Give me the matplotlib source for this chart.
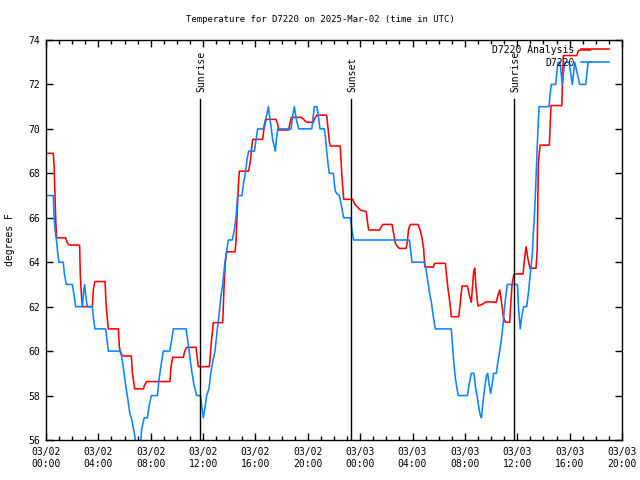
import matplotlib
matplotlib.use('Agg')
import matplotlib.pyplot as plt
from matplotlib.ticker import MultipleLocator

# hours since 2025-03-02 00:00 UTC
obs_hours = [0.15, 0.56, 0.62, 0.70, 0.80, 0.90, 0.99, 1.32, 1.40, 1.55, 2.01, 2.15, 2.27, 2.78, 2.86, 2.95,
             3.05, 3.16, 3.54, 3.62, 3.74, 4.56, 4.66, 4.76, 5.70, 5.85, 5.96, 6.10, 6.26, 6.40, 6.52, 6.72,
             6.93, 7.20, 7.31, 7.50, 7.74, 7.90, 8.05, 8.51, 8.65, 8.80, 8.96, 9.45, 9.60, 9.73, 10.70, 10.85,
             10.98, 11.13, 11.30, 11.51, 11.80, 11.90, 12.02, 12.15, 12.27, 12.45, 12.58, 12.80, 12.91, 13.09,
             13.25, 13.37, 13.50, 13.67, 13.80, 13.93, 14.23, 14.40, 14.51, 14.64, 14.97, 15.10, 15.23, 15.35,
             15.48, 15.92, 16.04, 16.17, 16.60, 16.75, 16.85, 16.99, 17.07, 17.19, 17.32, 17.45, 17.52, 17.60,
             17.70, 18.72, 18.85, 18.97, 19.10, 19.30, 20.30, 20.42, 20.50, 20.70, 20.82, 20.93, 21.26, 21.35,
             21.44, 21.55, 21.64, 21.95, 22.02, 22.10, 22.20, 22.41, 22.55, 22.74, 23.25, 23.38, 23.50, 27.76,
             27.88, 27.96, 28.93, 29.05, 29.18, 29.30, 29.44, 29.55, 29.74, 30.96, 31.05, 31.15, 31.27, 31.40,
             31.50, 32.19, 32.35, 32.49, 32.70, 32.80, 32.93, 33.05, 33.18, 33.26, 33.35, 33.44, 33.55, 33.65,
             33.74, 33.85, 33.97, 34.08, 34.20, 34.40, 34.52, 34.66, 34.80, 34.91, 35.05, 35.17, 35.24, 36.01,
             36.10, 36.23, 36.35, 36.49, 36.72, 36.85, 37.03, 37.15, 37.22, 37.30, 37.38, 37.46, 37.53, 37.60,
             37.66, 38.43, 38.50, 38.60, 38.94, 39.02, 39.11, 39.27, 39.35, 39.44, 39.52, 39.63, 39.95, 40.08,
             40.21, 40.30, 40.39, 40.54, 40.65, 40.77, 41.23, 41.32, 41.41, 41.60]
obs_temp = [67.0, 67.0, 66.0, 65.4, 65.0, 64.4, 64.0, 64.0, 63.5, 63.0, 63.0, 62.5, 62.0, 62.0, 62.6, 63.0,
            62.4, 62.0, 62.0, 61.5, 61.0, 61.0, 60.5, 60.0, 60.0, 59.5, 59.0, 58.4, 57.8, 57.2, 57.0, 56.4,
            55.6, 55.6, 56.5, 57.0, 57.0, 57.6, 58.0, 58.0, 58.8, 59.4, 60.0, 60.0, 60.5, 61.0, 61.0, 60.4,
            59.8, 59.1, 58.5, 58.0, 58.0, 57.5, 57.0, 57.5, 58.0, 58.3, 59.0, 59.7, 60.0, 61.0,
            61.8, 62.5, 63.0, 64.0, 64.5, 65.0, 65.0, 65.5, 66.0, 67.0, 67.0, 67.6, 68.0, 68.6,
            69.0, 69.0, 69.5, 70.0, 70.0, 70.4, 70.6, 71.0, 70.6, 70.1, 69.5, 69.2, 69.0, 69.5,
            70.0, 70.0, 70.6, 71.0, 70.5, 70.0, 70.0, 70.6, 71.0, 71.0, 70.5, 70.0, 70.0, 69.6,
            69.0, 68.4, 68.0, 68.0, 67.6, 67.2, 67.1, 67.0, 66.6, 66.0, 66.0, 65.4, 65.0, 65.0,
            64.4, 64.0, 64.0, 63.6, 63.1, 62.6, 62.2, 61.7, 61.0, 61.0, 60.3, 59.5, 58.8, 58.3,
            58.0, 58.0, 58.6, 59.0, 59.0, 58.4, 58.0, 57.5, 57.1, 57.0, 57.5, 58.0, 58.5, 58.9,
            59.0, 58.5, 58.1, 58.5, 59.0, 59.0, 59.5, 60.0, 60.6, 61.2, 62.1, 62.7, 63.0, 63.0,
            61.9, 61.0, 61.6, 62.0, 62.0, 62.6, 63.7, 64.4, 65.2, 66.0, 67.0, 68.3, 69.3, 70.2,
            71.0, 71.0, 71.5, 72.0, 72.0, 72.5, 73.0, 73.0, 72.5, 72.0, 72.5, 73.0, 73.0, 72.5,
            72.0, 72.5, 73.0, 72.6, 72.3, 72.0, 72.0, 72.5, 73.0, 73.0]

ana_hours = [0.15, 0.56, 0.62, 0.69, 0.75, 0.81, 1.50, 1.60, 1.78, 2.57, 2.62, 2.72, 2.78, 3.54, 3.62, 3.74,
             4.51, 4.60, 4.76, 5.53, 5.60, 5.70, 5.91, 6.52, 6.60, 6.78, 7.44, 7.55, 7.69, 9.47, 9.55, 9.68,
             10.49, 10.60, 10.75, 11.46, 11.55, 11.64, 12.48, 12.60, 12.70, 12.78, 13.50, 13.60, 13.70, 13.80,
             14.44, 14.52, 14.62, 14.70, 14.77, 15.48, 15.60, 15.70, 15.79, 16.55, 16.65, 16.81, 17.57, 17.70,
             17.78, 18.54, 18.65, 18.74, 19.48, 19.65, 19.80, 19.92, 20.42, 20.55, 20.70, 21.44, 21.55, 21.65,
             21.72, 22.48, 22.60, 22.74, 23.43, 23.60, 23.85, 24.01, 24.47, 24.56, 24.65, 25.49, 25.62, 25.74,
             26.43, 26.55, 26.69, 26.85, 27.00, 27.50, 27.60, 27.70, 27.83, 28.42, 28.60, 28.72, 28.85, 28.93,
             29.56, 29.69, 30.51, 30.60, 30.71, 30.85, 30.96, 31.53, 31.65, 31.78, 32.19, 32.35, 32.49, 32.58,
             32.67, 32.75, 32.83, 32.92, 33.00, 33.30, 33.64, 34.40, 34.52, 34.66, 34.75, 34.84, 34.95, 35.09,
             35.42, 35.50, 35.60, 35.75, 36.44, 36.55, 36.67, 36.80, 36.97, 37.43, 37.52, 37.61, 37.74, 38.45,
             38.52, 38.58, 39.40, 39.45, 39.52, 40.54, 40.65, 40.79, 41.60]
ana_temp = [68.9, 68.9, 68.3, 67.0, 65.8, 65.1, 65.1, 64.9, 64.77, 64.77, 63.4, 62.4, 62.0, 62.0, 62.8, 63.13,
            63.13, 62.0, 61.0, 61.0, 60.2, 59.9, 59.78, 59.78, 59.0, 58.3, 58.3, 58.5, 58.63, 58.63, 59.3, 59.72,
            59.72, 60.0, 60.17, 60.17, 59.7, 59.3, 59.3, 60.2, 60.8, 61.28, 61.28, 62.9, 64.0, 64.47,
            64.47, 65.0, 66.5, 67.5, 68.1, 68.1, 68.5, 69.1, 69.53, 69.53, 70.0, 70.43, 70.43, 70.2,
            69.95, 69.95, 70.3, 70.52, 70.52, 70.45, 70.35, 70.3, 70.3, 70.5, 70.62, 70.62, 70.0, 69.4,
            69.23, 69.23, 67.9, 66.83, 66.83, 66.6, 66.45, 66.35, 66.27, 65.8, 65.45, 65.45, 65.6, 65.7,
            65.7, 65.3, 64.85, 64.7, 64.62, 64.62, 64.9, 65.5, 65.7, 65.7, 65.4, 65.1, 64.6, 63.8,
            63.77, 63.95, 63.95, 63.4, 62.8, 62.2, 61.55, 61.55, 62.2, 62.93, 62.93, 62.5, 62.2, 62.9,
            63.6, 63.73, 63.0, 62.4, 62.03, 62.1, 62.22, 62.2, 62.5, 62.75, 62.4, 62.0, 61.5, 61.3,
            61.3, 62.1, 63.0, 63.47, 63.47, 64.1, 64.7, 64.2, 63.73, 63.73, 64.5, 68.45, 69.27, 69.27,
            70.3, 71.05, 71.05, 72.0, 73.3, 73.3, 73.5, 73.55, 73.55]

sun_hours = [11.76, 23.30, 35.75]
sun_labels = ['Sunrise', 'Sunset', 'Sunrise']

tick_hours = list(range(0, 45, 4))
tick_labels = ['03/02\n00:00', '03/02\n04:00', '03/02\n08:00', '03/02\n12:00', '03/02\n16:00', '03/02\n20:00',
               '03/03\n00:00', '03/03\n04:00', '03/03\n08:00', '03/03\n12:00', '03/03\n16:00', '03/03\n20:00']

plt.rcParams['font.family'] = 'DejaVu Sans Mono'
plt.rcParams['font.size'] = 7

fig = plt.figure(figsize=(6.4, 4.8), dpi=100)
ax = fig.add_axes([46/640, 40/480, 576/640, 400/480])

ax.plot(ana_hours, ana_temp, color='#ff0000', lw=1.15, label='D7220 Analysis')
ax.plot(obs_hours, obs_temp, color='#0a84ff', lw=1.15, label='D7220')

for h, lab in zip(sun_hours, sun_labels):
    ax.plot([h, h], [56, 71.35], color='black', lw=1)
    ax.text(h + 0.1, 71.65, lab, rotation=90, ha='center', va='bottom', fontsize=7)

ax.set_xlim(0, 44)
ax.set_ylim(56, 74)
ax.set_xticks(tick_hours)
ax.set_xticklabels(tick_labels)
ax.xaxis.set_minor_locator(MultipleLocator(1))
ax.set_yticks(range(56, 75, 2))
ax.tick_params(which='both', direction='in', top=True, right=True, width=1)
ax.tick_params(which='major', length=5)
ax.tick_params(which='minor', length=3)
ax.tick_params(axis='x', pad=5)
ax.tick_params(axis='y', pad=4)
for s in ax.spines.values():
    s.set_linewidth(1)

ax.legend(loc='upper right', bbox_to_anchor=(0.99, 1.005), frameon=False, markerfirst=False,
          handlelength=2.9, handletextpad=0.7, labelspacing=0.3, borderpad=0.2, fontsize=7)

fig.text(0.5, 1 - 20/480, 'Temperature for D7220 on 2025-Mar-02 (time in UTC)', ha='center', va='center',
         fontsize=6.5)
fig.text(10/640, 0.5, 'degrees F', rotation=90, ha='center', va='center', fontsize=7)

fig.savefig('out.png', dpi=100)
